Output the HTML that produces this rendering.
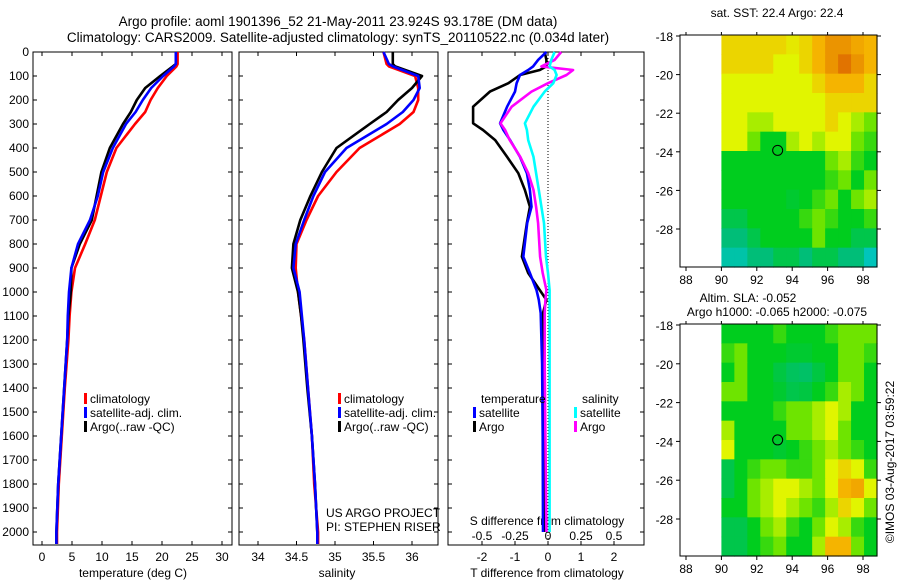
<!DOCTYPE html>
<html><head><meta charset="utf-8"><style>
html,body{margin:0;padding:0;background:#fff;}
svg{display:block;font-family:"Liberation Sans",sans-serif;}
</style></head><body>
<svg id="chart" width="900" height="580" viewBox="0 0 900 580" xmlns="http://www.w3.org/2000/svg">
<text x="338" y="26" font-size="13.5" text-anchor="middle">Argo profile: aoml 1901396_52 21-May-2011 23.924S 93.178E (DM data)</text>
<text x="338" y="42" font-size="13.5" text-anchor="middle">Climatology: CARS2009. Satellite-adjusted climatology: synTS_20110522.nc (0.034d later)</text>
<text x="777" y="17" font-size="12" text-anchor="middle">sat. SST: 22.4 Argo: 22.4</text>
<text x="748" y="302" font-size="12" text-anchor="middle">Altim. SLA: -0.052</text>
<text x="777" y="316" font-size="12" text-anchor="middle">Argo h1000: -0.065 h2000: -0.075</text>
<text x="0" y="0" font-size="12" text-anchor="middle" transform="translate(894,462) rotate(-90)">©IMOS 03-Aug-2017 03:59:22</text>
<g id="g"></g>
</svg>
<script>
const depths=[0,50,60,100,150,200,250,300,400,500,600,700,800,900,1000,1100,1200,1400,1600,1800,2000,2050];
const tempClim=[22.6,22.6,22.4,20.8,19.3,18.1,17.2,15.5,12.4,10.8,9.8,8.8,7.2,5.5,4.9,4.6,4.4,3.8,3.3,2.8,2.5,2.5];
const tempSat=[22.3,22.3,22.0,20.2,18.2,16.8,15.6,14.0,11.8,10.2,9.3,8.0,6.0,4.9,4.5,4.3,4.2,3.7,3.2,2.7,2.4,2.4];
const tempArgo=[22.3,22.3,21.8,19.7,17.2,15.8,14.8,13.5,11.3,9.9,9.1,8.3,6.3,4.9,4.8,4.4,4.2,3.7,3.2,2.7,2.4,2.4];
const salClim=[35.63,35.67,35.7,36.04,36.08,36.08,36.02,35.84,35.32,35.02,34.78,34.63,34.50,34.49,34.52,34.56,34.6,34.65,34.7,34.73,34.78,34.78];
const salSat=[35.63,35.7,35.75,36.08,36.1,36.02,35.88,35.67,35.15,34.87,34.72,34.6,34.49,34.46,34.54,34.57,34.6,34.65,34.7,34.74,34.77,34.77];
const salArgo=[35.75,35.75,35.78,36.13,36.0,35.82,35.67,35.45,35.02,34.83,34.68,34.55,34.46,34.44,34.52,34.56,34.59,34.64,34.7,34.74,34.77,34.77];
const diffDepths=[0,33,60,75,96,130,165,228,297,325,367,437,505,575,645,713,853,921,992,1033,1088,1300,1600,2000];
const tDiffArgo=[-0.1,-0.05,-0.05,-0.25,-0.85,-1.2,-1.76,-2.27,-2.27,-1.97,-1.6,-1.24,-0.9,-0.7,-0.55,-0.64,-0.79,-0.6,-0.25,-0.05,-0.15,-0.15,-0.12,-0.1];
const tDiffSat=[-0.05,-0.3,-0.45,-0.6,-0.85,-0.95,-1.0,-1.24,-1.45,-1.35,-1.15,-0.85,-0.64,-0.55,-0.5,-0.63,-0.75,-0.55,-0.35,-0.28,-0.22,-0.18,-0.16,-0.15];
const sDiffArgo=[0.1,0.05,-0.05,0.19,0.14,0.0,-0.125,-0.275,-0.36,-0.325,-0.29,-0.21,-0.15,-0.11,-0.09,-0.075,-0.06,-0.04,-0.012,-0.02,-0.025,-0.025,-0.02,-0.012];
const sDiffSat=[0.05,0.025,0.012,0.05,0.065,0.04,-0.025,-0.11,-0.175,-0.16,-0.15,-0.11,-0.09,-0.07,-0.05,-0.03,-0.015,0.0,0.012,0.012,0.012,0.012,0.012,0.012];
const depthTicks=[0,100,200,300,400,500,600,700,800,900,1000,1100,1200,1300,1400,1500,1600,1700,1800,1900,2000];
const tempTicks=[0,5,10,15,20,25,30];
const salTicks=[34,34.5,35,35.5,36];
const tDiffTicks=[-2,-1,0,1,2];
const sDiffTicks=[-0.5,-0.25,0,0.25,0.5];
const sDiffTickLabels=["-0.5","-0.25","0","0.25","0.5"];
const mapLats=[-18,-20,-22,-24,-26,-28];
const mapLons=[88,90,92,94,96,98];
const sstGrid=[
[4.5,4.5,4.5,4.5,4.5,4.2,4.5,5,5.5,5.5,5.2,5],
[4.5,4.5,4.5,4.5,4,4,4.5,5,5.5,6,5.5,5],
[4,4,4,4,4,4,4,4.5,5,5,5,4.5],
[4,4,4,4,4,4,4,4,4.5,4.5,4.5,4.5],
[4,4,3.5,3.5,4,4,4,4,4.5,4,3.5,3],
[4,4,3,2,2,3.5,4,3.5,4,4,3,2.5],
[2,2,2,2,2,2,2,2,3,3.5,2.5,2],
[2,2,2,2,2,2,2,2,2.5,3,2,3],
[2,2,2,2,2,1.8,2,2.5,3,2,3,3.5],
[1.5,1.5,2,2,2,2,2.5,3,2.5,2,2,2.5],
[1,1,1.5,2,2,2,2,3,2,2,1.5,1.5],
[0.5,0.5,1,1,1.5,1.5,1,1.5,1.5,1,1,0.3]];
const slaGrid=[
[2,2,2,2,2.5,2,2,2,2.5,3,3,3],
[2.5,3,2,2,2,1.8,1.8,2,2,3,3,2.5],
[2,3,2,2,1.6,1.3,1.2,1.6,2,3,3,2],
[3,3,2,2,1.8,1.5,1.6,2,2.5,3.5,3,2],
[2,2,2,2,2.5,3,3,3.5,4,3.5,2,2],
[3.5,2,2,2,2,3,3,3.5,4,3,2,2],
[4,2,2,2,1.8,2,2.5,3,3.5,3,2.5,2],
[1.5,2,2.5,3,3,2.5,2.5,3,4,4.5,4,2.5],
[1.5,2,3,3.5,4,4,3.5,3,4,5,5.2,4],
[2,2,3,3.5,4,3.5,3,2.5,3.5,4.5,4,3],
[1.5,1.5,2,3,3.5,2.5,2,3,4,3.5,2.5,2],
[1.5,1.5,2,2.5,3,2,2,3.5,5,5,3,2]];

const NS='http://www.w3.org/2000/svg';
const G=document.getElementById('g');
function mk(tag,at,parent){const e=document.createElementNS(NS,tag);for(const k in at)e.setAttribute(k,at[k]);(parent||G).appendChild(e);return e;}
function txt(s,x,y,at){const e=mk('text',Object.assign({x:x,y:y,'font-size':12},at||{}));e.textContent=s;return e;}

const Y0=52,KY=0.24,BOT=545;
const yD=d=>Y0+KY*d;
const xT=t=>42+6*t, xS=s=>258+77*(s-34), xDf=v=>548+33*v, xSd=v=>548+132*v;
const panels=[[33,232],[239,438],[448,644]];

panels.forEach((p,i)=>{
  const r=mk('rect',{x:p[0],y:Y0,width:p[1]-p[0],height:BOT-Y0,fill:'none',stroke:'#000','stroke-width':1});
  
  
  depthTicks.forEach(d=>{
    mk('line',{x1:p[0],x2:p[0]+4,y1:yD(d),y2:yD(d),stroke:'#000'});
    mk('line',{x1:p[1],x2:p[1]-4,y1:yD(d),y2:yD(d),stroke:'#000'});
  });
});
depthTicks.forEach(d=>{
  const t=txt(String(d),29,yD(d)+4,{'text-anchor':'end'});
  
  
});
function xticks(ticks,fx,labels,ly){
  ticks.forEach((v,i)=>{
    const x=fx(v);
    mk('line',{x1:x,x2:x,y1:Y0,y2:Y0+4,stroke:'#000'});
    mk('line',{x1:x,x2:x,y1:BOT,y2:BOT-4,stroke:'#000'});
    const t=txt(labels?labels[i]:String(v),x,ly,{'text-anchor':'middle'});
    
    
  });
}
xticks(tempTicks,xT,null,561);
xticks(salTicks,xS,null,561);
xticks(tDiffTicks,xDf,null,561);
sDiffTicks.forEach((v,i)=>{
  const t=txt(sDiffTickLabels[i],xSd(v),540,{'text-anchor':'middle'});
  
  
});
let t;
t=txt('temperature (deg C)',133,577,{'text-anchor':'middle'});
t=txt('salinity',337,577,{'text-anchor':'middle'});
t=txt('T difference from climatology',547,577,{'text-anchor':'middle'});
t=txt('S difference from climatology',547,525,{'text-anchor':'middle'});
t=txt('US ARGO PROJECT',326,517);
t=txt('PI: STEPHEN RISER',326,531);

const zl=mk('line',{x1:xDf(0),x2:xDf(0),y1:Y0,y2:BOT,stroke:'#000','stroke-dasharray':'1,2'});


function line(vals,dep,fx,color,name){
  const pts=vals.map((v,i)=>fx(v).toFixed(1)+','+yD(dep[i]).toFixed(1)).join(' ');
  const l=mk('polyline',{points:pts,fill:'none',stroke:color,'stroke-width':2.6,'stroke-linejoin':'round'});
  
  
}
line(tempClim,depths,xT,'#ff0000','temp-climatology-line');
line(tempArgo,depths,xT,'#000000','temp-argo-line');
line(tempSat,depths,xT,'#0000ff','temp-satellite-line');
line(salClim,depths,xS,'#ff0000','sal-climatology-line');
line(salArgo,depths,xS,'#000000','sal-argo-line');
line(salSat,depths,xS,'#0000ff','sal-satellite-line');
line(tDiffArgo,diffDepths,xDf,'#000000','tdiff-argo-line');
line(tDiffSat,diffDepths,xDf,'#0000ff','tdiff-satellite-line');
line(sDiffArgo,diffDepths,xSd,'#ff00ff','sdiff-argo-line');
line(sDiffSat,diffDepths,xSd,'#00ffff','sdiff-satellite-line');

function legend(x,y,color,label,name){
  const m=mk('rect',{x:x,y:y-10,width:3,height:11,fill:color});
  
  const tt=txt(label,x+6,y);
  
}
[[84,'p1'],[338,'p2']].forEach(([x,p])=>{
  legend(x,403,'#ff0000','climatology',p+'-legend-climatology');
  legend(x,417,'#0000ff','satellite-adj. clim.',p+'-legend-satellite');
  legend(x,431,'#000000','Argo(..raw -QC)',p+'-legend-argo');
});
t=txt('temperature',481,403);
t=txt('salinity',582,403);
legend(473,417,'#0000ff','satellite','legend-t-satellite');
legend(473,431,'#000000','Argo','legend-t-argo');
legend(574,417,'#00ffff','satellite','legend-s-satellite');
legend(574,431,'#ff00ff','Argo','legend-s-argo');

const stops=[[0,[0,200,215]],[1,[0,190,120]],[2,[0,205,30]],[3,[110,228,0]],[4,[225,245,0]],[5,[245,180,0]],[6,[225,115,0]]];
function cmap(v){
  v=Math.max(0,Math.min(6,v));
  for(let i=0;i<stops.length-1;i++){
    const a=stops[i],b=stops[i+1];
    if(v<=b[0]){const f=(v-a[0])/(b[0]-a[0]);return 'rgb('+a[1].map((c,j)=>Math.round(c+(b[1][j]-c)*f)).join(',')+')';}
  }
  return 'rgb(225,115,0)';
}
function drawMap(grid,top,bot,y18,y28,name){
  const X0=680,X1=877;
  const xL=lon=>686+(lon-88)*17.7;
  const yL=lat=>y18+(-18-lat)*((y28-y18)/10);
  const rows=grid.length,cols=grid[0].length;
  const gx0=xL(90),gx1=X1,gy0=top,gy1=bot;
  const cw=(gx1-gx0)/cols,ch=(gy1-gy0)/rows;
  grid.forEach((row,r)=>row.forEach((v,c)=>{
    const cell=mk('rect',{x:(gx0+c*cw).toFixed(2),y:(gy0+r*ch).toFixed(2),width:(cw+0.6).toFixed(2),height:(ch+0.6).toFixed(2),fill:cmap(v)});
    
    
  }));
  const fr=mk('rect',{x:X0,y:top,width:X1-X0,height:bot-top,fill:'none',stroke:'#000'});
  
  mapLats.forEach(lat=>{
    const y=yL(lat);
    mk('line',{x1:X0,x2:X0-4,y1:y,y2:y,stroke:'#000'});
    mk('line',{x1:X1,x2:X1+4,y1:y,y2:y,stroke:'#000'});
    const l=txt(String(lat),673,y+5,{'text-anchor':'end'});
    
  });
  mapLons.forEach(lon=>{
    const x=xL(lon);
    mk('line',{x1:x,x2:x,y1:bot,y2:bot+4,stroke:'#000'});
    mk('line',{x1:x,x2:x,y1:top,y2:top-3,stroke:'#000'});
    const l=txt(String(lon),x,bot+17,{'text-anchor':'middle'});
    
  });
  const c=mk('circle',{cx:xL(93.178),cy:yL(-23.924),r:5,fill:'none',stroke:'#000'});
  
}
drawMap(sstGrid,35,267,36,229,'sst-map');
drawMap(slaGrid,324,556,325,519,'sla-map');
</script>
</body></html>
